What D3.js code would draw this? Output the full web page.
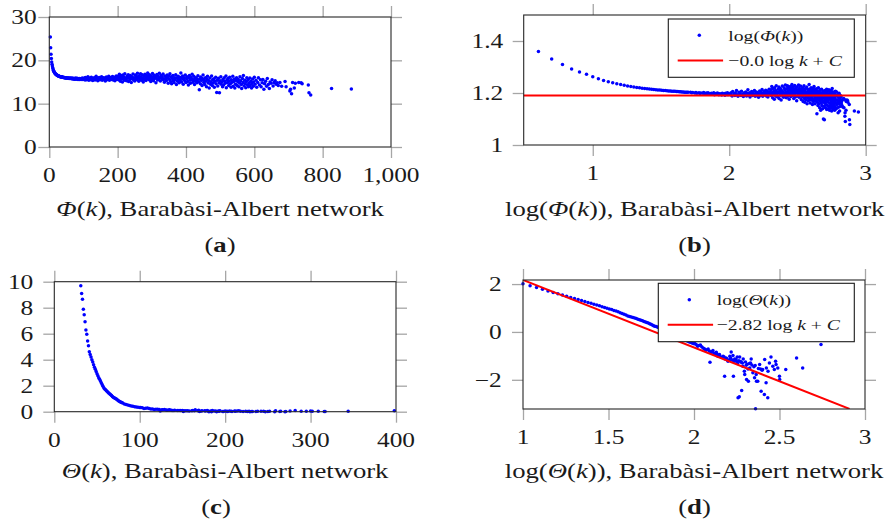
<!DOCTYPE html>
<html>
<head>
<meta charset="utf-8">
<script src="https://cdn.jsdelivr.net/npm/d3@7"></script>
<style>
  body { margin: 0; background: #fff; }
  svg text { font-family: "Liberation Serif", "Times New Roman", serif; fill: #1a1a1a; }
</style>
</head>
<body>
<svg id="fig" width="891" height="528"></svg>
<script>
// Φ(k): mean value per node degree k, Barabàsi-Albert network  [k, Φ]
const phiData = [
[3,25.4],[4,22.9],[5,21.4],[6,20.4],[7,19.6],[8,19.1],[9,18.7],[10,18.3],[11,18.0],[12,17.7],
[13,17.5],[14,17.35],[15,17.2],[16,17.1],[17,16.98],[18,16.88],[19,16.8],[20,16.72],[21,16.65],[22,16.6],
[23,16.54],[24,16.5],[25,16.46],[26,16.42],[27,16.38],[28,16.35],[29,16.32],[30,16.29],[31,16.26],[32,16.24],
[33,16.21],[34,16.19],[35,16.17],[36,16.15],[37,16.13],[38,16.11],[39,16.09],[40,16.08],[41,16.06],[42,16.05],
[43,16.03],[44,16.02],[45,16.0],[46,15.99],[47,15.97],[48,15.96],[49,15.95],[50,15.94],
[52,15.95],[53,15.88],[54,15.92],[56,15.85],[57,15.93],[58,15.82],[60,15.9],[61,15.78],[62,15.86],[64,15.8],
[65,15.92],[66,15.74],[68,15.84],[69,15.7],[70,15.88],[72,15.76],[73,15.66],[74,15.82],[76,15.7],[77,15.9],
[78,15.62],[80,15.78],[81,15.68],[82,15.85],[84,15.6],[85,15.76],[86,15.7],[88,15.58],[89,15.82],[90,15.66],
[92,15.74],[93,15.55],[94,15.8],[96,15.64],[97,15.9],[98,15.6],[100,15.75],
[102,15.6],[103,15.9],[105,15.45],[106,16.05],[108,15.7],[110,15.5],[111,15.85],[113,16.2],[115,15.6],[116,15.4],
[118,15.95],[120,15.75],[122,15.5],[123,16.1],[125,15.65],[127,15.35],[128,15.85],[130,15.6],[132,16.0],[134,15.45],
[135,15.8],[137,16.3],[139,15.55],[141,15.9],[142,15.3],[144,15.7],[146,16.05],[148,15.5],[150,15.85],[151,15.6],
[153,16.2],[155,15.4],[157,15.75],[158,16.0],[160,15.55],[162,15.9],[164,15.25],[165,15.7],[167,16.15],[169,15.5],
[171,15.95],[172,15.65],[174,16.35],[176,15.4],[178,15.8],[180,16.05],[181,15.6],[183,15.9],[185,16.25],[187,15.45],
[189,15.75],[190,16.1],[192,15.3],[194,15.85],[196,16.4],[198,15.6],[200,15.95],
[202,16.3],[203,15.5],[205,16.8],[206,15.9],[208,15.2],[209,16.5],[211,15.7],[212,16.1],[214,15.0],[215,16.6],
[217,15.8],[218,16.2],[220,15.4],[221,16.9],[223,15.6],[225,16.0],[226,15.3],[228,16.4],[229,15.85],[231,16.7],
[232,15.1],[234,16.05],[236,15.55],[237,16.5],[239,15.9],[240,14.9],[242,16.2],[244,15.7],[245,16.85],[247,15.45],
[248,16.0],[250,15.25],[252,16.6],[253,15.8],[255,16.3],[257,15.5],[258,17.0],[260,15.95],[262,15.2],[263,16.45],
[265,15.7],[267,16.9],[268,16.1],[270,15.4],[272,16.65],[273,15.85],[275,15.0],[277,16.3],[278,15.6],[280,16.8],
[282,16.0],[283,15.35],[285,16.5],[287,15.75],[288,17.1],[290,16.2],[292,15.5],[293,16.7],[295,15.9],[297,15.1],
[298,16.4],[300,15.65],[302,16.95],[303,16.1],[305,15.3],[307,16.55],[308,15.8],[310,16.25],[312,14.8],[313,15.95],
[315,16.75],[317,15.45],[318,16.3],[320,15.7],[322,17.0],[323,16.0],[325,15.25],[327,16.5],[328,15.85],[330,16.2],
[332,15.5],[333,16.85],[335,15.75],[337,14.95],[338,16.4],[340,15.6],[342,16.05],[343,15.35],[345,16.6],[347,15.9],
[348,14.7],[350,16.3],
[352,15.6],[353,16.9],[355,15.1],[357,16.2],[358,14.6],[360,15.8],[362,16.5],[363,15.3],[365,14.9],[367,16.0],
[368,15.55],[370,16.7],[372,14.4],[373,15.9],[375,15.2],[377,16.35],[378,15.7],[380,14.8],[382,16.1],[383,15.4],
[385,17.1],[387,15.0],[388,15.85],[390,16.4],[392,14.5],[393,15.6],[395,16.0],[397,15.25],[398,16.6],[400,14.9],
[402,15.75],[403,16.2],[405,15.1],[407,14.3],[408,15.9],[410,16.5],[412,15.4],[413,14.7],[415,16.05],[417,15.65],
[418,16.8],[420,14.95],[422,15.5],[423,16.3],[425,14.4],[427,15.85],[428,15.2],[430,16.0],[432,14.8],[433,15.6],
[435,16.45],[437,15.05],[439,13.2],[440,15.7],[442,14.6],[443,16.15],[445,15.35],[447,14.2],[448,15.8],[450,16.6],
[452,14.9],[453,15.45],[455,14.4],[457,16.0],[458,15.15],[460,13.9],[462,15.6],[463,16.3],[465,14.75],[467,15.3],
[468,13.6],[470,15.9],[472,14.5],[473,15.05],[475,16.4],[477,14.2],[478,15.5],[480,14.85],[482,15.75],[483,13.8],
[485,15.2],[487,16.1],[488,14.6],[490,12.6],[492,15.4],[493,14.1],[495,15.85],[497,14.8],[498,12.5],[500,15.3],
[502,16.2],[503,14.5],[505,15.0],[507,13.9],[508,15.6],[510,14.3],[512,16.0],[513,15.15],[515,14.7],[517,16.4],
[518,13.7],[520,15.45],[522,14.9],[523,15.8],[525,14.2],[527,15.25],[528,16.1],[530,14.6],[532,13.8],[533,15.5],
[535,14.95],[537,16.3],[538,14.0],[540,15.1],[542,15.7],[543,13.6],[545,14.5],[547,15.35],[548,16.0],[550,14.2],
[552,15.0],[553,15.6],[555,13.9],[557,14.75],[558,16.2],[560,15.3],[562,14.4],[563,13.5],[565,15.8],[567,14.9],
[568,16.5],[570,14.1],[572,15.4],[573,14.6],[575,13.7],[577,15.1],[578,16.0],[580,14.35],[582,15.55],[583,13.9],
[585,14.8],[587,15.9],[588,14.2],[590,15.2],[592,13.6],[593,14.65],[595,15.7],[597,14.0],[598,15.0],[600,16.1],
[602,14.5],[605,15.4],[607,13.8],[610,14.9],[612,16.0],[615,14.3],[618,15.5],[620,13.9],[623,14.8],[625,15.6],
[628,13.3],[630,14.6],[633,15.2],[636,14.0],[638,15.8],[641,14.4],[644,13.5],[646,15.0],[649,14.7],[652,15.5],
[655,14.1],[658,14.9],[661,15.3],[664,14.5],[667,14.8],[670,14.2],[675,14.9],[680,14.0],[690,15.1],[693,13.9],
[704,12.9],[706,13.3],[709,12.3],[712,14.9],[717,13.6],[720,14.7],[730,14.9],[737,14.8],[740,14.6],[758,14.3],
[760,12.5],[765,12.0],[826,13.5],[884,13.4]
];

// Θ(k): per-degree values, Barabàsi-Albert network  [k, Θ]
const thetaData = [
[10,102],[11,85],[12,71.6],[13,61],[14,51.9],[15,44.7],[16,39.4],[17,34.7],[18,30.9],[19,27.5],
[20,24.8],[21,22.4],[22,20.4],[23,18.6],[24,17.0],[25,15.7],[26,14.5],[27,13.3],[28,12.3],[29,11.35],
[30,10.5],[31,9.69],[32,9.1],[33,8.65],[34,7.88],[35,7.46],[36,6.92],[37,6.28],[38,5.95],[39,5.44],
[40,5.08],[41,4.62],[42,4.4],[43,4.2],[44,4.0],[45,3.82],[46,3.62],[47,3.42],[48,3.26],[49,3.1],
[50,2.92],[51,2.76],[52,2.62],[53,2.5],[54,2.36],[55,2.22],[56,2.1],[57,1.96],[58,1.82],[59,1.74],
[60,1.68],[61,1.62],[62,1.55],[63,1.48],[64,1.42],[65,1.36],[66,1.3],[67,1.24],[68,1.17],[69,1.11],
[70,1.07],[71,1.03],[72,0.99],[73,0.95],[74,0.9],[75,0.85],[76,0.8],[77,0.76],[78,0.73],[79,0.7],
[80,0.67],[82,0.6],[84,0.55],[86,0.51],[88,0.47],[90,0.44],[92,0.41],[94,0.38],[96,0.36],[98,0.34],
[100,0.32],[101,0.326],[103,0.30],[105,0.251],[107,0.27],[109,0.286],[111,0.24],[113,0.215],[115,0.2],[117,0.172],
[119,0.18],[121,0.195],[123,0.16],[124,0.0543],[126,0.142],[127,0.15],[129,0.166],[131,0.13],[132,0.121],[134,0.125],
[135,0.141],[137,0.115],[138,0.0966],[140,0.1],[141,0.113],[144,0.0906],[146,0.085],[148,0.0966],[150,0.09],[151,0.0142],
[152,0.0748],[154,0.0822],[156,0.075],[158,0.0597],[161,0.0658],[162,0.0966],[164,0.08],[165,0.146],[168,0.066],[169,0.103],
[170,0.0142],[172,0.06],[173,0.0748],[176,0.07],[177,0.0597],[179,0.0906],[180,0.0478],[181,0.00177],[183,0.062],[184,0.00195],
[185,0.0906],[187,0.058],[189,0.0543],[190,0.00358],[192,0.05],[193,0.037],[194,0.0748],[197,0.0229],[198,0.0166],[200,0.055],
[202,0.0407],[203,0.0103],[205,0.045],[207,0.0286],[208,0.00877],[211,0.0478],[212,0.0315],[214,0.05],[216,0.0748],[218,0.042],
[221,0.0195],[224,0.035],[226,0.0121],[228,0.04],[229,0.000617],[231,0.0166],[232,0.00877],[236,0.00877],[238,0.03],[242,0.0434],
[245,0.028],[247,0.00336],[250,0.025],[252,0.0269],[258,0.00244],[259,0.0702],[264,0.00748],[265,0.0315],[270,0.00177],[271,0.0229],
[276,0.0509],[282,0.0906],[289,0.037],[295,0.0269],[300,0.0597],[302,0.0434],[309,0.0315],[316,0.0142],[317,0.0103],[344,0.0269],
[398,0.0822],[432,0.0315],[553,0.296]
];

// Fitted power laws: log y = slope * log k + C
const phiFit = { slope: -0.0, intercept: 1.19, from: 0.45, to: 3.05 };
const thetaFit = { slope: -2.82, intercept: 4.99, from: 1.0, to: 2.91 };

// Tick values
const ticksAX = [0, 200, 400, 600, 800, 1000];
const ticksAY = [0, 10, 20, 30];
const ticksBX = [1, 2, 3];
const ticksBY = [1, 1.2, 1.4];
const ticksCX = [0, 100, 200, 300, 400];
const ticksCY = [0, 2, 4, 6, 8, 10];
const ticksDX = [1, 1.5, 2, 2.5, 3];
const ticksDY = [-2, 0, 2];

const FONT = 20;        // tick labels
const LABEL_FONT = 21;  // axis labels and sub-captions
const LEGEND_FONT = 15.5;
const SX = 1.27;        // horizontal stretch of the typeset text
const BLUE = "#0000ff", RED = "#ff0000";
const DOT_R = 1.75;

const svg = d3.select("#fig");

// Typeset a run of [string, style] parts at (x, y)
function typeset(parent, x, y, anchor, parts, opts = {}) {
  const t = parent.append("text")
    .attr("transform", `translate(${x},${y}) scale(${SX},1)`)
    .attr("text-anchor", anchor)
    .attr("font-size", opts.size || FONT)
    .attr("dominant-baseline", opts.baseline || "alphabetic");
  parts.forEach(([s, st]) => {
    const ts = t.append("tspan").text(s);
    if (st === "i") ts.attr("font-style", "italic");
    if (st === "b") ts.attr("font-weight", "bold");
  });
  return t;
}

const minus = v => (v < 0 ? "\u2212" + Math.abs(v) : String(v));

const panels = [
  { key: "a", box: [49.3, 391, 17, 147], xd: [0, 1000], yd: [0, 30],
    xt: ticksAX, yt: ticksAY, xf: d3.format(","), yf: String, yGap: 12.6,
    pts: phiData.map(d => [d[0], d[1]]),
    label: [["\u03A6", "i"], ["(", ""], ["k", "i"], ["), Barab\u00E0si-Albert network", ""]],
    cap: "a", capX: 220 },
  { key: "b", box: [523.7, 865.7, 15, 145], xd: [0.494, 3.0], yd: [1, 1.5],
    xt: ticksBX, yt: ticksBY, xf: String, yf: String, yGap: 20.4,
    pts: phiData.map(d => [Math.log10(d[0]), Math.log10(d[1])]),
    fit: phiFit,
    label: [["log(", ""], ["\u03A6", "i"], ["(", ""], ["k", "i"], ["))", ""], [", Barab\u00E0si-Albert network", ""]],
    legend: { box: [668.3, 854.3, 19, 77.3], name: "\u03A6", fitText: "\u22120.0 log ", txt: 60 },
    cap: "b", capX: 694.5 },
  { key: "c", box: [54.3, 396, 281.7, 411.7], xd: [0, 400], yd: [0, 10],
    xt: ticksCX, yt: ticksCY, xf: String, yf: String, yGap: 21,
    pts: thetaData.map(d => [d[0], d[1]]),
    label: [["\u0398", "i"], ["(", ""], ["k", "i"], ["), Barab\u00E0si-Albert network", ""]],
    cap: "c", capX: 216 },
  { key: "d", box: [523, 865, 280, 409], xd: [1, 3], yd: [-3.22, 2.17],
    xt: ticksDX, yt: ticksDY, xf: String, yf: minus, yGap: 21.3,
    pts: thetaData.map(d => [Math.log10(d[0]), Math.log10(d[1])]),
    fit: thetaFit,
    label: [["log(", ""], ["\u0398", "i"], ["(", ""], ["k", "i"], ["))", ""], [", Barab\u00E0si-Albert network", ""]],
    legend: { box: [658.3, 854.3, 283.3, 341.7], name: "\u0398", fitText: "\u22122.82 log ", txt: 58.4 },
    cap: "d", capX: 694.5 }
];

const TICK = 11;

panels.forEach(p => {
  const [L, R, T, B] = p.box;
  const x = d3.scaleLinear().domain(p.xd).range([L, R]);
  const y = d3.scaleLinear().domain(p.yd).range([B, T]);
  const g = svg.append("g").attr("class", "panel-" + p.key);

  // tick marks on all four sides, pointing outward
  const axes = [
    [d3.axisBottom(x).tickValues(p.xt), `translate(0,${B})`],
    [d3.axisTop(x).tickValues(p.xt), `translate(0,${T})`],
    [d3.axisLeft(y).tickValues(p.yt), `translate(${L},0)`],
    [d3.axisRight(y).tickValues(p.yt), `translate(${R},0)`]
  ];
  axes.forEach(([ax, tr]) => {
    const ag = g.append("g").attr("transform", tr)
      .call(ax.tickSize(TICK).tickSizeOuter(0).tickFormat(""));
    ag.select(".domain").remove();
    ag.selectAll(".tick line").attr("stroke", "#a6a6a6").attr("stroke-width", 1.3);
  });

  // tick labels
  p.xt.forEach(v => typeset(g, x(v), B + 28, "middle", [[p.xf(v), ""]], { baseline: "central" }));
  p.yt.forEach(v => typeset(g, L - p.yGap, y(v), "end", [[p.yf(v), ""]], { baseline: "central" }));

  // clip region for the fitted line
  const clipId = "clip-" + p.key;
  svg.append("clipPath").attr("id", clipId)
    .append("rect").attr("x", L).attr("y", T).attr("width", R - L).attr("height", B - T);

  // data points (only those inside the axis limits)
  const inside = p.pts.filter(d => d[0] >= p.xd[0] && d[0] <= p.xd[1] && d[1] >= p.yd[0] - 0.01 && d[1] <= p.yd[1]);
  g.append("g").selectAll("circle").data(inside).join("circle")
    .attr("cx", d => x(d[0])).attr("cy", d => y(d[1]))
    .attr("r", DOT_R).attr("fill", BLUE);

  // fitted line
  if (p.fit) {
    const f = p.fit;
    const line = d3.line().x(d => x(d)).y(d => y(f.slope * d + f.intercept));
    g.append("path").datum([f.from, f.to]).attr("d", line)
      .attr("clip-path", `url(#${clipId})`)
      .attr("fill", "none").attr("stroke", RED).attr("stroke-width", 2);
  }

  // frame
  g.append("rect").attr("x", L).attr("y", T).attr("width", R - L).attr("height", B - T)
    .attr("fill", "none").attr("stroke", "#262626").attr("stroke-width", 1.1);

  // legend
  if (p.legend) {
    const [lL, lR, lT, lB] = p.legend.box;
    const lg = g.append("g");
    lg.append("rect").attr("x", lL).attr("y", lT).attr("width", lR - lL).attr("height", lB - lT)
      .attr("fill", "#fff").attr("stroke", "#1a1a1a").attr("stroke-width", 1.1);
    const row1 = lT + (lB - lT) * 0.28, row2 = lT + (lB - lT) * 0.71;
    const sym = lL + 31, txt = lL + p.legend.txt;
    lg.append("circle").attr("cx", sym).attr("cy", row1).attr("r", DOT_R).attr("fill", BLUE);
    lg.append("line").attr("x1", lL + 9.4).attr("x2", lL + 54.8).attr("y1", row2).attr("y2", row2)
      .attr("stroke", RED).attr("stroke-width", 2);
    typeset(lg, txt, row1, "start",
      [["log(", ""], [p.legend.name, "i"], ["(", ""], ["k", "i"], ["))", ""]],
      { baseline: "central", size: LEGEND_FONT });
    typeset(lg, txt, row2, "start",
      [[p.legend.fitText, ""], ["k", "i"], [" + ", ""], ["C", "i"]],
      { baseline: "central", size: LEGEND_FONT });
  }

  // axis label and sub-caption
  const cx = (L + R) / 2;
  const rowY = T < 200 ? 0 : 262;
  typeset(g, cx, 216 + rowY, "middle", p.label, { size: LABEL_FONT });
  typeset(g, p.capX, 252 + rowY, "middle", [["(", ""], [p.cap, "b"], [")", ""]], { size: LABEL_FONT });
});
</script>
</body>
</html>
